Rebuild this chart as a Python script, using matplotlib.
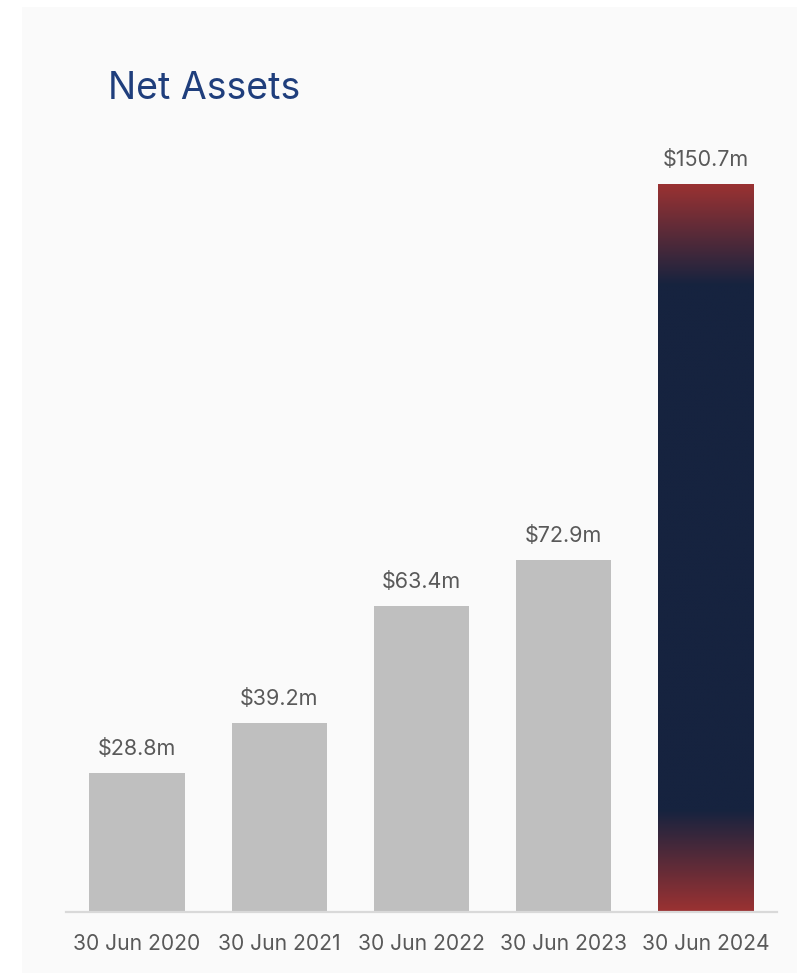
import matplotlib.pyplot as plt
import numpy as np
from matplotlib.colors import LinearSegmentedColormap
from matplotlib.patches import Rectangle

# Net assets at each financial year end ($m)
periods = ["30 Jun 2020", "30 Jun 2021", "30 Jun 2022", "30 Jun 2023", "30 Jun 2024"]
net_assets = [28.8, 39.2, 63.4, 72.9, 150.7]
value_labels = ["$28.8m", "$39.2m", "$63.4m", "$72.9m", "$150.7m"]

FONT = "Inter"
W, H = 797, 973
fig = plt.figure(figsize=(W / 100, H / 100), dpi=100, facecolor="white")

# light card behind the chart
fig.patches.append(Rectangle((22 / W, 0), (W - 22) / W, (H - 7) / H,
                             transform=fig.transFigure, facecolor="#fafafa",
                             edgecolor="none", zorder=-1))

ax = fig.add_axes([66 / W, (H - 912) / H, (777 - 66) / W, (912 - 140) / H])
ax.set_facecolor("none")
ax.set_zorder(2)

x = np.arange(len(periods))
bar_w = 0.67
colors = ["#bfbfbf"] * (len(periods) - 1) + ["none"]
bars = ax.bar(x, net_assets, width=bar_w, color=colors, zorder=2)

ax.set_xlim(-0.5, 4.5)
ax.set_ylim(0, 159.8)

# latest year: navy bar fading to red at both ends
cmap = LinearSegmentedColormap.from_list("fade", ["#16233f", "#9b3232"])
top = net_assets[-1]
ys = np.linspace(0, top, 600)
fade = 21.0
dist = np.minimum(ys, top - ys)
grad = np.clip(1 - dist / fade, 0, 1)[:, None]
last = bars[-1]
img = ax.imshow(grad, cmap=cmap, vmin=0, vmax=1, aspect="auto", origin="lower",
                extent=[last.get_x(), last.get_x() + last.get_width(), 0, top],
                interpolation="bilinear", zorder=2)
img.set_clip_path(last)

for xi, v, lab in zip(x, net_assets, value_labels):
    ax.annotate(lab, (xi, v), xytext=(0, 10), textcoords="offset points",
                ha="center", va="bottom", fontsize=15.5, color="#595959",
                family=FONT)

for s in ["top", "right", "left"]:
    ax.spines[s].set_visible(False)
ax.spines["bottom"].set_color("#d9d9d9")
ax.spines["bottom"].set_linewidth(1.6)
ax.set_yticks([])
ax.set_xticks(x)
ax.set_xticklabels(periods, fontsize=15.2, color="#595959", family=FONT)
ax.tick_params(axis="x", length=0, pad=16)

fig.text(108 / W, 1 - 99 / H, "Net Assets", fontsize=27, color="#1f3e7c",
         family=FONT, ha="left", va="baseline")

fig.savefig("out.png", dpi=100, facecolor="white")
